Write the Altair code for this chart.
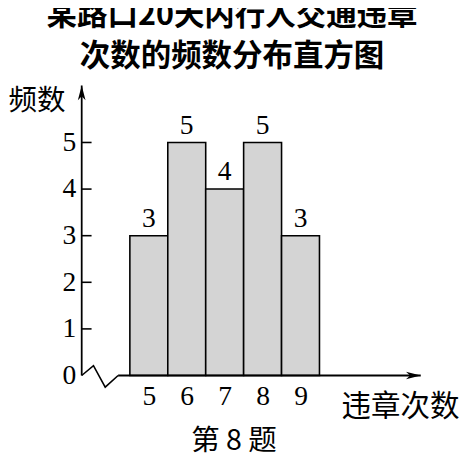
"""某路口20天内行人交通违章次数的频数分布直方图（第 8 题）."""

import altair as alt
import pandas as pd

# 数据
violations = [5, 6, 7, 8, 9]          # 违章次数
counts = [3, 5, 4, 5, 3]              # 频数
y_ticks = [0, 1, 2, 3, 4, 5]
inner_ticks = [1, 2, 3, 4, 5]

title_lines = ["某路口20天内行人交通违章", "次数的频数分布直方图"]
caption = "第 8 题"

# 坐标系范围：纵轴位于 X0，箭头尖端在 X1 / Y1
X0, X1 = 3.23, 12.17
Y1 = 6.22
BREAK_END = 4.19
zigzag_x = [X0, 3.54, 3.85, BREAK_END]
zigzag_y = [0, 0.21, -0.25, 0]

SERIF = "Liberation Serif"
CJK = "Noto Sans CJK SC"

bars = pd.DataFrame({"x": violations, "n": counts})
bars["lo"] = bars["x"] - 0.5
bars["hi"] = bars["x"] + 0.5

xs = alt.Scale(domain=[X0, X1], nice=False, zero=False)
ys = alt.Scale(domain=[0, Y1], nice=False, zero=False)

x_axis = alt.Axis(
    values=violations, ticks=False, domain=False, grid=False,
    labelFont=SERIF, labelFontSize=28, labelColor="black", labelPadding=8,
    title="违章次数", titleFont=CJK, titleFontSize=30, titleFontWeight="normal",
    titleColor="black", titleX=264, titleY=32, titleAlign="left",
    titleBaseline="middle",
)
y_axis = alt.Axis(
    values=y_ticks, ticks=False, domain=False, grid=False,
    labelFont=SERIF, labelFontSize=28, labelColor="black", labelPadding=6,
    title="频数", titleFont=CJK, titleFontSize=29, titleFontWeight="normal",
    titleColor="black", titleAngle=0, titleX=-46, titleY=15,
    titleAlign="center", titleBaseline="middle",
)


def px(field):
    return alt.X(field, scale=xs, axis=x_axis)


def py(field):
    return alt.Y(field, scale=ys, axis=y_axis)


rect = alt.Chart(bars).mark_rect(
    fill="#d4d4d4", stroke="black", strokeWidth=1.6
).encode(x=px("lo:Q"), x2="hi:Q", y=py("n:Q"), y2=alt.datum(0))

labels = alt.Chart(bars).mark_text(
    baseline="bottom", dy=-3, font=SERIF, fontSize=28, color="black"
).encode(x=px("x:Q"), y=py("n:Q"), text="n:Q")

# 纵轴、横轴
axes_df = pd.DataFrame({
    "x": [X0, BREAK_END], "x2": [X0, X1], "y": [0, 0], "y2": [Y1, 0],
})
axis_lines = alt.Chart(axes_df).mark_rule(color="black", strokeWidth=1.8).encode(
    x=px("x:Q"), x2="x2:Q", y=py("y:Q"), y2="y2:Q",
)

ticks_df = pd.DataFrame({"y": inner_ticks, "x": X0, "x2": X0 + 0.26})
tick_marks = alt.Chart(ticks_df).mark_rule(color="black", strokeWidth=1.6).encode(
    x=px("x:Q"), x2="x2:Q", y=py("y:Q"),
)

zz_df = pd.DataFrame({"x": zigzag_x, "y": zigzag_y, "o": range(len(zigzag_x))})
zigzag = alt.Chart(zz_df).mark_line(color="black", strokeWidth=1.6).encode(
    x=px("x:Q"), y=py("y:Q"), order="o:Q",
)

up_arrow = alt.Chart(pd.DataFrame({"x": [X0], "y": [Y1]})).mark_point(
    shape="M0,0L-0.26,1L0,0.72L0.26,1Z", filled=True, color="black",
    size=900, opacity=1,
).encode(x=px("x:Q"), y=py("y:Q"))

right_arrow = alt.Chart(pd.DataFrame({"x": [X1], "y": [0]})).mark_point(
    shape="M0,0L-1,-0.26L-0.72,0L-1,0.26Z", filled=True, color="black",
    size=900, opacity=1,
).encode(x=px("x:Q"), y=py("y:Q"))

note = alt.Chart(pd.DataFrame({"t": [caption]})).mark_text(
    font=CJK, fontSize=29, color="black", align="center", baseline="middle"
).encode(x=alt.value(155), y=alt.value(362), text="t:N")

chart = alt.layer(
    rect, labels, axis_lines, tick_marks, zigzag, up_arrow, right_arrow, note
).properties(
    width=345,
    height=295,
    padding={"left": 75, "top": 75, "right": 42, "bottom": 82},
    autosize=alt.AutoSizeParams(type="none"),
    background="white",
    title=alt.Title(
        title_lines, font=CJK, fontSize=31, fontWeight="bold", color="black",
        lineHeight=42, anchor="middle", frame="group", dx=-19.5, offset=12,
    ),
).configure_view(stroke=None)

chart.save("out.html", embed_options={"renderer": "svg", "actions": False})
